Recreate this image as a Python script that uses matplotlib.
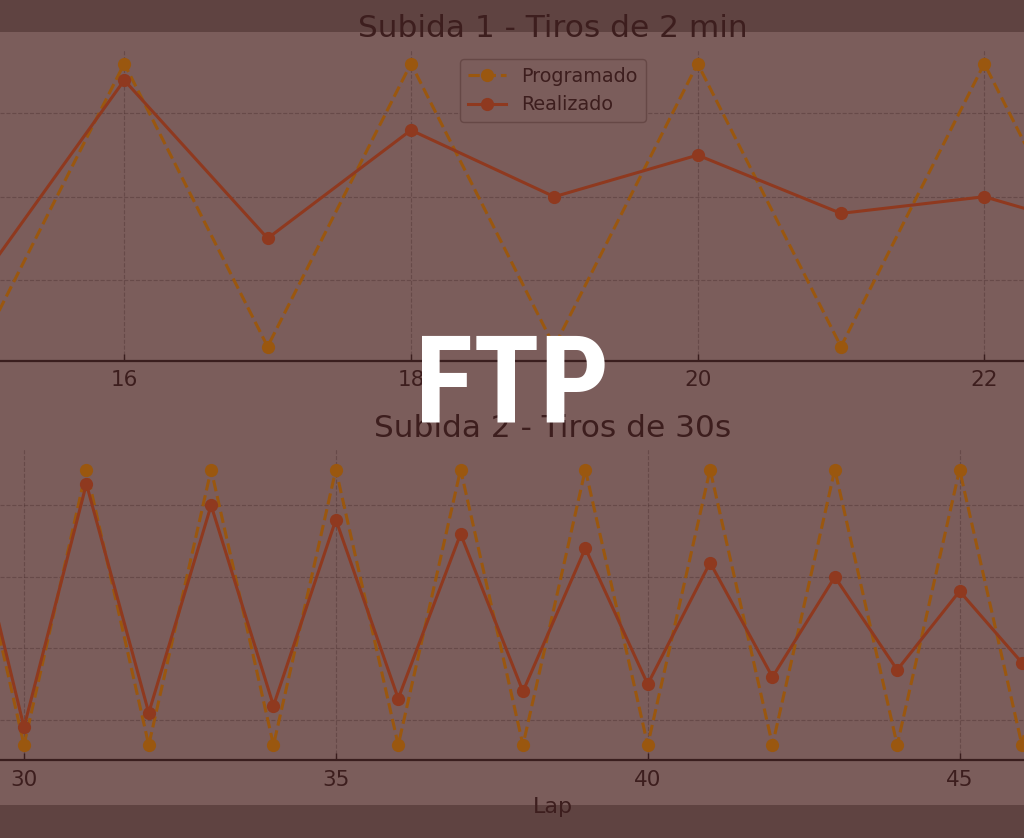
import matplotlib
matplotlib.use("Agg")
import matplotlib.pyplot as plt
from matplotlib import font_manager
from matplotlib.patches import Rectangle

# Subida 1 - Tiros de 2 min
laps_1 = [15, 16, 17, 18, 19, 20, 21, 22, 23]
prog_1 = [110, 280, 110, 280, 110, 280, 110, 280, 110]
real_1 = [150, 270, 175, 240, 200, 225, 190, 200, 175]

# Subida 2 - Tiros de 30s
laps_2 = [29, 30, 31, 32, 33, 34, 35, 36, 37, 38, 39, 40, 41, 42, 43, 44, 45, 46, 47, 48]
prog_2 = [450, 65, 450, 65, 450, 65, 450, 65, 450, 65, 450, 65, 450, 65, 450, 65, 450, 65, 450, 65]
real_2 = [450, 90, 430, 110, 400, 120, 380, 130, 360, 140, 340, 150, 320, 160, 300, 170, 280, 180, 260, 190]

BG = '#7b5d5b'
BAND = '#5f4341'
C_PROG = '#9a570f'
C_REAL = '#8f391f'
TXT = '#3d1e1e'
GRID = '#4a2e2e'

# narrow bold font for the big label, if there is one
names = {f.name for f in font_manager.fontManager.ttflist}
ftp_font = 'DejaVu Sans'
for cand in ['Liberation Sans Narrow', 'Roboto Condensed', 'Roboto']:
    if cand in names:
        ftp_font = cand
        break

W, H = 1024, 838
fig = plt.figure(figsize=(W / 100, H / 100), dpi=100, facecolor=BG)

# dark bands top and bottom (behind everything)
fig.patches.append(Rectangle((0, 1 - 32 / H), 1, 32 / H, transform=fig.transFigure,
                             facecolor=BAND, edgecolor='none', zorder=-5))
fig.patches.append(Rectangle((0, 0), 1, 33 / H, transform=fig.transFigure,
                             facecolor=BAND, edgecolor='none', zorder=-5))


def make_ax(top_px, bottom_px):
    ax = fig.add_axes([0, 1 - bottom_px / H, 1, (bottom_px - top_px) / H])
    ax.set_facecolor('none')
    for s in ['top', 'right', 'left']:
        ax.spines[s].set_visible(False)
    ax.spines['bottom'].set_color('#3a1e1e')
    ax.spines['bottom'].set_linewidth(1.6)
    ax.grid(True, linestyle='--', linewidth=0.8, color=GRID, alpha=0.4)
    ax.set_axisbelow(True)
    ax.tick_params(axis='x', direction='in', length=5, width=1, color='#3a1e1e',
                   labelsize=15.5, labelcolor=TXT, pad=7)
    ax.tick_params(axis='y', left=False, labelleft=False)
    return ax


line_kw = dict(marker='o', markersize=8.5, linewidth=2.2)

ax1 = make_ax(49.4, 360.7)
ax1.plot(laps_1, prog_1, linestyle='--', color=C_PROG, label='Programado', **line_kw)
ax1.plot(laps_1, real_1, linestyle='-', color=C_REAL, label='Realizado', **line_kw)
ax1.set_xlim(15.133, 22.277)
ax1.set_ylim(101.5, 288.5)
ax1.set_xticks([16, 18, 20, 22])
ax1.set_yticks([150, 200, 250])
ax1.set_title('Subida 1 - Tiros de 2 min', fontsize=22.5, color=TXT, x=0.54, pad=9)
leg = ax1.legend(loc='upper center', bbox_to_anchor=(0.54, 1.0), fontsize=13.8,
                 facecolor=BG, edgecolor='#664846', framealpha=1)
for t in leg.get_texts():
    t.set_color(TXT)

ax2 = make_ax(449, 760)
ax2.plot(laps_2, prog_2, linestyle='--', color=C_PROG, label='Programado', **line_kw)
ax2.plot(laps_2, real_2, linestyle='-', color=C_REAL, label='Realizado', **line_kw)
ax2.set_xlim(29.615, 46.033)
ax2.set_ylim(44.1, 478.7)
ax2.set_xticks([30, 35, 40, 45])
ax2.set_yticks([100, 200, 300, 400])
ax2.set_title('Subida 2 - Tiros de 30s', fontsize=22.5, color=TXT, x=0.54, pad=9)
ax2.set_xlabel('Lap', fontsize=16, color=TXT)
ax2.xaxis.set_label_coords(0.54, -0.118)

fig.text(0.5, 1 - 422 / H, 'FTP', ha='center', va='baseline', color='white',
         fontsize=88, fontweight='bold', family=[ftp_font, 'DejaVu Sans'], zorder=10)

fig.savefig('out.png', dpi=100, facecolor=BG)
